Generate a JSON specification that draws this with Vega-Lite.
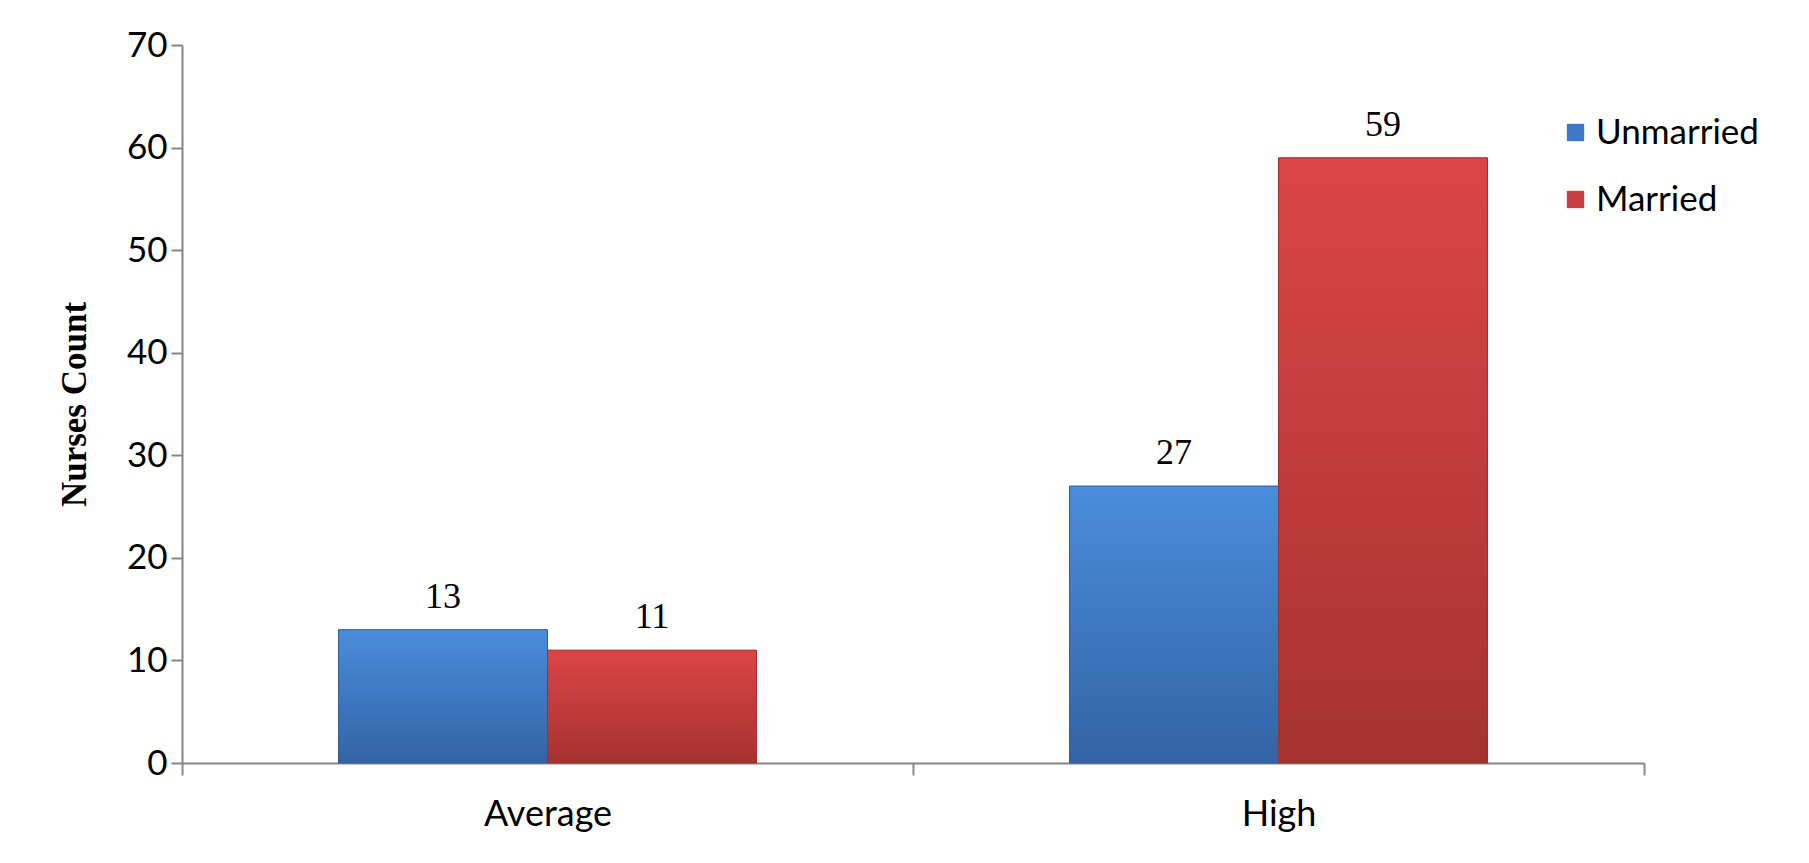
{
  "$schema": "https://vega.github.io/schema/vega-lite/v6.json",
  "autosize": {"type": "none"},
  "padding": {"left": 182, "top": 45, "right": 165, "bottom": 100},
  "width": 1462,
  "height": 718,
  "background": "white",
  "data": {
    "values": [
      {"category": "Average", "status": "Unmarried", "count": 13},
      {"category": "Average", "status": "Married", "count": 11},
      {"category": "High", "status": "Unmarried", "count": 27},
      {"category": "High", "status": "Married", "count": 59}
    ]
  },
  "encoding": {
    "x": {
      "field": "category",
      "type": "nominal",
      "sort": ["Average", "High"],
      "scale": {"paddingInner": 0, "paddingOuter": 0},
      "axis": {
        "title": null,
        "labelAngle": 0,
        "labelFont": "Lato",
        "labelFontSize": 36,
        "labelColor": "#000000",
        "labelPadding": 22,
        "tickBand": "extent",
        "tickSize": 12,
        "tickColor": "#868686",
        "tickWidth": 2,
        "domainColor": "#868686",
        "domainWidth": 2
      }
    },
    "xOffset": {
      "field": "status",
      "type": "nominal",
      "sort": ["Unmarried", "Married"],
      "scale": {"paddingInner": 0, "paddingOuter": 0.749}
    },
    "y": {
      "field": "count",
      "type": "quantitative",
      "scale": {"domain": [0, 70], "nice": false},
      "axis": {
        "title": "Nurses Count",
        "titleFont": "Liberation Serif",
        "titleFontSize": 35,
        "titleFontWeight": "bold",
        "titleColor": "#000000",
        "titlePadding": 34,
        "values": [0, 10, 20, 30, 40, 50, 60, 70],
        "grid": false,
        "labelFont": "Lato",
        "labelFontSize": 35,
        "labelColor": "#000000",
        "labelPadding": 4,
        "tickSize": 11,
        "tickColor": "#868686",
        "tickWidth": 2,
        "domainColor": "#868686",
        "domainWidth": 2
      }
    }
  },
  "layer": [
    {
      "mark": {"type": "bar"},
      "encoding": {
        "color": {
          "field": "status",
          "type": "nominal",
          "sort": ["Unmarried", "Married"],
          "scale": {"domain": ["Unmarried", "Married"], "range": ["#3d79c6", "#c93e3e"]},
          "legend": {
            "title": null,
            "orient": "none",
            "legendX": 1376,
            "legendY": 70,
            "padding": 0,
            "symbolType": "square",
            "symbolSize": 300,
            "symbolStrokeWidth": 0,
            "labelFont": "Lato",
            "labelFontSize": 35,
            "labelColor": "#000000",
            "labelOffset": 3,
            "labelLimit": 400,
            "rowPadding": 31
          }
        }
      }
    },
    {
      "transform": [{"filter": "datum.status === 'Unmarried'"}],
      "mark": {
        "type": "bar",
        "stroke": "#2f5f9e",
        "strokeWidth": 1,
        "fill": {"gradient": "linear", "x1": 0, "y1": 0, "x2": 0, "y2": 1, "stops": [{"offset": 0, "color": "#4a8ddb"}, {"offset": 1, "color": "#3363a5"}]}
      },
      "encoding": {}
    },
    {
      "transform": [{"filter": "datum.status === 'Married'"}],
      "mark": {
        "type": "bar",
        "stroke": "#9e2f2f",
        "strokeWidth": 1,
        "fill": {"gradient": "linear", "x1": 0, "y1": 0, "x2": 0, "y2": 1, "stops": [{"offset": 0, "color": "#dc4545"}, {"offset": 1, "color": "#a63232"}]}
      },
      "encoding": {}
    },
    {
      "mark": {
        "type": "text",
        "font": "Liberation Serif",
        "fontSize": 36,
        "color": "#000000",
        "baseline": "alphabetic",
        "dy": -22
      },
      "encoding": {
        "text": {"field": "count", "type": "quantitative"}
      }
    }
  ],
  "config": {
    "view": {"stroke": null}
  }
}
